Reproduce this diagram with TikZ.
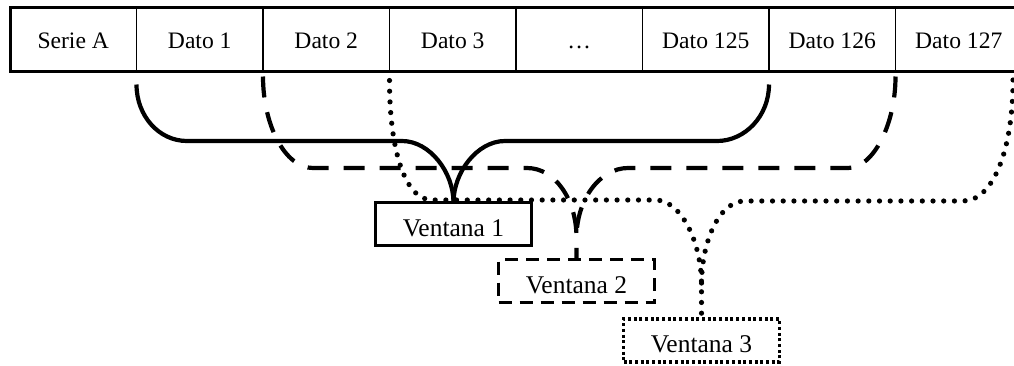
\documentclass[tikz,border=0pt]{standalone}
\usepackage{fontspec}
\setmainfont{Liberation Serif}
\usetikzlibrary{calc}
\begin{document}
\begin{tikzpicture}[x=1pt,y=-1pt,
  cell/.style={font=\fontsize{23.6}{26}\selectfont, text height=18pt, text depth=0pt, draw, line width=1.3pt, minimum width=126.5pt, minimum height=64pt, inner sep=0pt, outer sep=0pt},
  win/.style={font=\fontsize{25.5}{28}\selectfont, text height=24.5pt, text depth=0pt, minimum width=156pt, minimum height=43pt, inner sep=0pt, outer sep=0pt},
  winsolid/.style={win, draw, line width=2.8pt},
  windash/.style={win, draw, line width=3pt, dash pattern=on 13pt off 8pt},
  windot/.style={win, draw, line width=3.2pt, dash pattern=on 3pt off 2.7pt},
  bsolid/.style={line width=4.2pt},
  bdash/.style={line width=4.2pt, dash pattern=on 21pt off 15pt},
  bdot/.style={line width=5.2pt, line cap=round, dash pattern=on 0pt off 10.7pt}
]
\useasboundingbox (0,0) rectangle (1014,365);
\clip (0,0) rectangle (1014,365);
% table
\node[cell] (c0) at (73.25,39.5) {Serie A};
\node[cell] (c1) at (199.75,39.5) {Dato 1};
\node[cell] (c2) at (326.25,39.5) {Dato 2};
\node[cell] (c3) at (452.75,39.5) {Dato 3};
\node[cell] (c4) at (579.25,39.5) {…};
\node[cell] (c5) at (705.75,39.5) {Dato 125};
\node[cell] (c6) at (832.25,39.5) {Dato 126};
\node[cell] (c7) at (958.75,39.5) {Dato 127};
\draw[line width=3pt] (c0.north west) rectangle (c7.south east);
% windows
\node[winsolid] (v1) at (453.5,224) {Ventana 1};
\node[windash] (v2) at (576.5,281) {Ventana 2};
\node[windot] (v3) at (701.5,340.5) {Ventana 3};
% brace endpoints
\coordinate (s1) at ($(c1.south west)+(0,13)$);
\coordinate (s2) at ($(c6.south west)+(0,13)$);
\coordinate (d1) at ($(c2.south west)+(0,5)$);
\coordinate (d2) at ($(c7.south west)+(0,5)$);
\coordinate (t1) at ($(c3.south west)+(0,9)$);
\coordinate (t2) at (1013,80);
\coordinate (j2) at ($(v2.north)+(0,-22)$);
\coordinate (j3) at ($(v3.north)+(0,-35)$);
% window 1
\draw[bsolid] (s1) .. controls (136.5,116) and (159,141) .. (187,141) -- (402,141)
  .. controls (430,141) and ($(v1.north)+(0,-30)$) .. (v1.north);
\draw[bsolid] (s2) .. controls (769,116) and (745,141) .. (717,141) -- (505,141)
  .. controls (477,141) and ($(v1.north)+(0,-30)$) .. (v1.north);
% window 2
\draw[bdash] (d1) .. controls (263,125) and (285,168) .. (313,168) -- (527,168)
  .. controls (555,168) and ($(j2)+(0,-38)$) .. (j2) -- (v2.north);
\draw[bdash] (d2) .. controls (895.5,125) and (873,168) .. (848,168) -- (628,168)
  .. controls (600,168) and ($(j2)+(0,-38)$) .. (j2);
% window 3
\draw[bdot] (t1) .. controls (389.5,150) and (405,200) .. (432,200) -- (655,200)
  .. controls (682,200) and ($(j3)+(0,-40)$) .. (j3) -- (v3.north);
\draw[bdot] (t2) .. controls (1013,150) and (993,201) .. (963,201) -- (745,201)
  .. controls (718,201) and ($(j3)+(0,-40)$) .. (j3);
\end{tikzpicture}
\end{document}
